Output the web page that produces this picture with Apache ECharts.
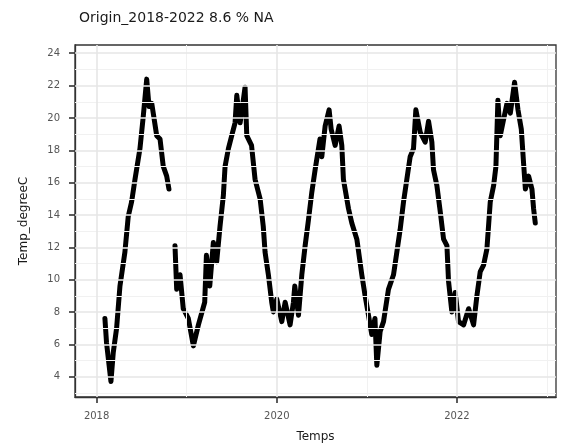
<!DOCTYPE html>
<html>
<head>
<meta charset="utf-8">
<script src="https://cdn.jsdelivr.net/npm/echarts@6/dist/echarts.min.js"></script>
<style>
  html, body { margin: 0; padding: 0; background: #fff; }
  #chart { width: 561px; height: 448px; }
</style>
</head>
<body>
<div id="chart"></div>
<script>
// Water temperature at Origin, 2018-2022 (decimal years), null marks the data gap
const years = [
  2018.092, 2018.110, 2018.159, 2018.185, 2018.222, 2018.259, 2018.314, 2018.351, 2018.388,
  2018.426, 2018.481, 2018.518, 2018.556, 2018.582, 2018.612, 2018.667, 2018.704, 2018.740,
  2018.778, 2018.803,
  2018.835,
  2018.870, 2018.889, 2018.926, 2018.962, 2019.018, 2019.074, 2019.130, 2019.200, 2019.219,
  2019.256, 2019.296, 2019.333, 2019.370, 2019.407, 2019.426, 2019.463, 2019.500, 2019.537,
  2019.556, 2019.593, 2019.619, 2019.648, 2019.667, 2019.720, 2019.759, 2019.815, 2019.850,
  2019.870, 2019.907, 2019.944, 2019.962, 2020.000, 2020.056, 2020.093, 2020.148, 2020.185,
  2020.200, 2020.241, 2020.278, 2020.315, 2020.352, 2020.389, 2020.426, 2020.480, 2020.500,
  2020.537, 2020.581, 2020.604, 2020.648, 2020.692, 2020.722, 2020.740, 2020.796, 2020.833,
  2020.889, 2020.944, 2020.981, 2021.018, 2021.055, 2021.090, 2021.111, 2021.148, 2021.185,
  2021.240, 2021.296, 2021.333, 2021.370, 2021.407, 2021.444, 2021.481, 2021.518, 2021.544,
  2021.593, 2021.648, 2021.685, 2021.722, 2021.740, 2021.778, 2021.815, 2021.852, 2021.889,
  2021.907, 2021.944, 2021.981, 2022.018, 2022.074, 2022.130, 2022.185, 2022.222, 2022.259,
  2022.296, 2022.333, 2022.370, 2022.407, 2022.433, 2022.455, 2022.481, 2022.518, 2022.556,
  2022.593, 2022.640, 2022.678, 2022.715, 2022.740, 2022.760, 2022.796, 2022.833, 2022.851,
  2022.870
];
const temps = [
  7.6, 6.1, 3.7, 5.5, 7.0, 9.6, 11.7, 13.9, 14.8,
  16.2, 18.1, 20.1, 22.4, 20.7, 20.9, 18.9, 18.7, 17.0,
  16.4, 15.6,
  null,
  12.1, 9.4, 10.3, 8.2, 7.6, 5.9, 7.2, 8.6, 11.5,
  9.6, 12.3, 11.1, 13.3, 15.2, 17.0, 18.1, 18.9, 19.7,
  21.4, 19.7, 20.7, 21.9, 18.9, 18.3, 16.2, 15.0, 13.3,
  11.7, 10.3, 8.6, 8.0, 8.8, 7.4, 8.6, 7.2, 8.6,
  9.6, 7.8, 10.3, 12.1, 13.7, 15.4, 16.8, 18.7, 17.6,
  19.5, 20.5, 19.3, 18.3, 19.5, 18.3, 16.2, 14.4, 13.5,
  12.5, 10.3, 9.0, 7.8, 6.6, 7.6, 4.7, 6.8, 7.4,
  9.4, 10.3, 11.7, 13.1, 14.8, 16.2, 17.6, 18.1, 20.5,
  19.1, 18.5, 19.8, 18.5, 16.8, 15.8, 14.2, 12.5, 12.1,
  9.9, 8.0, 9.2, 7.4, 7.2, 8.2, 7.2, 9.0, 10.5,
  10.9, 11.9, 14.8, 15.8, 17.0, 21.1, 18.9, 19.9, 20.9,
  20.3, 22.2, 20.5, 19.3, 17.2, 15.6, 16.4, 15.6, 14.4,
  13.5
];

// Axis ticks and grid lines
const xMajorTicks = [2018, 2020, 2022];
const xMinorTicks = [2019, 2021, 2023];
const yMajorTicks = [4, 6, 8, 10, 12, 14, 16, 18, 20, 22, 24];
const yMinorTicks = [3, 5, 7, 9, 11, 13, 15, 17, 19, 21, 23];

const titleText = 'Origin_2018-2022 8.6 % NA';
const xTitle = 'Temps';
const yTitle = 'Temp_degreeC';

const FONT = 'DejaVu Sans';
const points = years.map((y, i) => [y, temps[i]]);

const minorStyle = { type: 'solid', color: '#f1f1f1', width: 1 };
const majorStyle = { type: 'solid', color: '#e6e6e6', width: 1.6 };
const gridLines = [
  ...xMinorTicks.map(v => ({ xAxis: v, lineStyle: minorStyle })),
  ...yMinorTicks.map(v => ({ yAxis: v, lineStyle: minorStyle })),
  ...xMajorTicks.map(v => ({ xAxis: v, lineStyle: majorStyle })),
  ...yMajorTicks.map(v => ({ yAxis: v, lineStyle: majorStyle }))
];

const chart = echarts.init(document.getElementById('chart'), null, { renderer: 'canvas' });
chart.setOption({
  animation: false,
  backgroundColor: '#ffffff',
  title: {
    text: titleText,
    left: 74,
    top: 6,
    textStyle: { fontFamily: FONT, fontSize: 14, fontWeight: 'normal', color: '#1a1a1a' }
  },
  grid: {
    left: 75, right: 5, top: 45, bottom: 49,
    show: true, borderColor: '#333333', borderWidth: 1.3, backgroundColor: '#ffffff'
  },
  xAxis: {
    type: 'value',
    min: 2017.76, max: 2023.1,
    name: xTitle,
    nameLocation: 'middle',
    nameGap: 34,
    nameTextStyle: { fontFamily: FONT, fontSize: 12, color: '#1a1a1a' },
    axisLine: { show: true, onZero: false, lineStyle: { color: '#333333', width: 1.3 } },
    axisTick: { show: true, length: 6, customValues: xMajorTicks, lineStyle: { color: '#333333', width: 1.6 } },
    axisLabel: {
      customValues: xMajorTicks, margin: 14,
      fontFamily: FONT, fontSize: 10, color: '#555555',
      formatter: v => String(Math.round(v))
    },
    splitLine: { show: false }
  },
  yAxis: {
    type: 'value',
    min: 2.74, max: 24.51,
    name: yTitle,
    nameLocation: 'middle',
    nameGap: 45,
    nameRotate: 90,
    nameTextStyle: { fontFamily: FONT, fontSize: 12, color: '#1a1a1a' },
    axisLine: { show: true, onZero: false, lineStyle: { color: '#333333', width: 1.3 } },
    axisTick: { show: true, length: 6, customValues: yMajorTicks, lineStyle: { color: '#333333', width: 1.6 } },
    axisLabel: {
      customValues: yMajorTicks, margin: 15,
      fontFamily: FONT, fontSize: 10, color: '#555555',
      formatter: v => String(Math.round(v))
    },
    splitLine: { show: false }
  },
  series: [
    {
      // panel grid lines
      type: 'line',
      data: [],
      z: 1,
      silent: true,
      markLine: {
        silent: true,
        symbol: ['none', 'none'],
        label: { show: false },
        emphasis: { disabled: true },
        animation: false,
        data: gridLines
      }
    },
    {
      type: 'line',
      data: points,
      z: 3,
      showSymbol: false,
      connectNulls: false,
      lineStyle: { color: '#000000', width: 5, join: 'round', cap: 'round' },
      silent: true
    }
  ]
});
</script>
</body>
</html>
